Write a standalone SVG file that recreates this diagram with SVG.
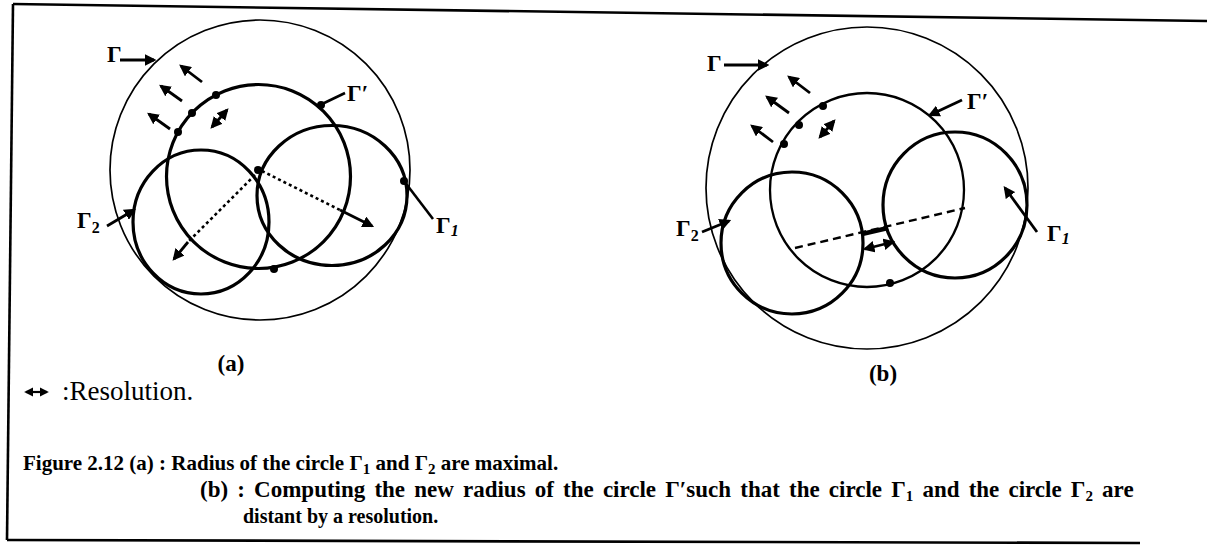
<svg xmlns="http://www.w3.org/2000/svg" width="1207" height="553" viewBox="0 0 1207 553">
<defs>
<style>
.thin{fill:none;stroke:#000;stroke-width:1.7}
.med{fill:none;stroke:#000;stroke-width:2.3}
.thick{fill:none;stroke:#000;stroke-width:3.2}
.frame{fill:none;stroke:#000;stroke-width:2.6}
.arr{fill:none;stroke:#000;stroke-width:2.8;marker-end:url(#ah)}
.darr{fill:none;stroke:#000;stroke-width:2.8;marker-start:url(#ah);marker-end:url(#ah)}
.ln{fill:none;stroke:#000;stroke-width:2.6}
.dotted{fill:none;stroke:#000;stroke-width:2.6;stroke-dasharray:3 3}
.dashed{fill:none;stroke:#000;stroke-width:2.4;stroke-dasharray:8 5}
.dot{fill:#000}
.lbl{font-family:"Liberation Serif","Times New Roman",serif;font-size:23px;font-weight:bold;fill:#000}
.sub{font-size:16px}
.cap{font-family:"Liberation Serif","Times New Roman",serif;font-size:20.5px;font-weight:bold;fill:#000}
.capsub{font-size:15px}
.reg{font-family:"Liberation Serif","Times New Roman",serif;font-size:27px;fill:#000}
</style>
<marker id="ah" viewBox="0 0 10 10" refX="8" refY="5" markerWidth="4.2" markerHeight="4.2" orient="auto-start-reverse">
<path d="M0,0 L10,5 L0,10 z" fill="#000"/>
</marker>
</defs>
<rect width="1207" height="553" fill="#fff"/>
<g id="frame">
<path class="frame" d="M13,4 L1207,21"/>
<path class="frame" d="M13,4 L7,540"/>
<path class="frame" d="M7,540 L1140,543"/>
</g>
<!-- Panel (a) -->
<g id="a-gamma"><circle class="thin" cx="260" cy="170" r="150"/></g>
<g id="a-gammaprime"><circle class="thick" cx="258.5" cy="176.5" r="92"/></g>
<g id="a-gamma2"><ellipse class="thick" cx="201" cy="222" rx="68" ry="72"/></g>
<g id="a-gamma1"><ellipse class="thick" cx="332" cy="195.5" rx="75" ry="70"/></g>
<g id="a-points">
<circle class="dot" cx="216" cy="95" r="4"/>
<circle class="dot" cx="192" cy="113" r="4"/>
<circle class="dot" cx="178" cy="132" r="4"/>
<circle class="dot" cx="274" cy="269" r="4"/>
<circle class="dot" cx="258" cy="170" r="4"/>
</g>
<g id="a-labels">
<text class="lbl" x="107" y="62">Γ</text>
<text class="lbl" x="347" y="101">Γ′</text>
<text class="lbl" x="77" y="228">Γ<tspan class="sub" dy="5">2</tspan></text>
<text class="lbl" x="436" y="233">Γ<tspan class="sub" dy="3" font-style="italic">1</tspan></text>
</g>
<g id="a-connectors">
<path class="arr" d="M120,60 L154,60"/>
<path class="ln" d="M345,93 L320,105"/>
<circle class="dot" cx="321" cy="105" r="4"/>
<path class="arr" d="M107,226 L134,210"/>
<path class="ln" d="M433,219 L404,181"/>
<circle class="dot" cx="404" cy="181" r="4"/>
<path class="arr" d="M202,82 L181,66"/>
<path class="arr" d="M182,101 L161,86"/>
<path class="arr" d="M170,129 L149,114"/>
<path class="darr" d="M212,127 L227,110"/>
<path class="dotted" d="M255,175 L188,242"/>
<path class="arr" d="M188,242 L174,259"/>
<path class="dotted" d="M262,171 L340,210"/>
<path class="arr" d="M340,210 L372,226"/>
</g>
<!-- Panel (b) -->
<g id="b-gamma"><circle class="thin" cx="867" cy="188" r="161"/></g>
<g id="b-gammaprime"><circle class="med" cx="867" cy="190" r="97"/></g>
<g id="b-gamma2"><circle class="thick" cx="792" cy="243" r="71"/></g>
<g id="b-gamma1"><ellipse class="thick" cx="955" cy="205" rx="72" ry="73"/></g>
<g id="b-points">
<circle class="dot" cx="823" cy="106" r="4"/>
<circle class="dot" cx="799" cy="125" r="4"/>
<circle class="dot" cx="784" cy="144" r="4"/>
<circle class="dot" cx="890" cy="283" r="4"/>
</g>
<g id="b-labels">
<text class="lbl" x="707" y="71">Γ</text>
<text class="lbl" x="967" y="109">Γ′</text>
<text class="lbl" x="676" y="236">Γ<tspan class="sub" dy="5">2</tspan></text>
<text class="lbl" x="1047" y="241">Γ<tspan class="sub" dy="3" font-style="italic">1</tspan></text>
</g>
<g id="b-connectors">
<path class="arr" d="M724,65 L767,65"/>
<path class="arr" d="M962,100 L930,115"/>
<path class="arr" d="M702,232 L729,221"/>
<path class="arr" d="M1037,232 L1005,188"/>
<path class="arr" d="M810,93 L789,77"/>
<path class="arr" d="M789,113 L767,97"/>
<path class="arr" d="M773,142 L752,126"/>
<path class="darr" d="M820,137 L834,121"/>
<path class="dashed" d="M795,248 L965,208"/>
<path fill="none" stroke="#000" stroke-width="4.5" d="M862,234 L888,228"/>
<path class="darr" d="M865,249 L893,242"/>
</g>
<g id="captions">
<text class="cap" x="231" y="371" text-anchor="middle" style="font-size:23px">(a)</text>
<text class="cap" x="883" y="381" text-anchor="middle" style="font-size:23px">(b)</text>
<path fill="none" stroke="#000" stroke-width="2.2" marker-start="url(#ah)" marker-end="url(#ah)" d="M26,392 L47,392"/>
<text class="reg" x="62" y="400">:Resolution.</text>
<text class="cap" x="23" y="470" style="font-size:21px">Figure 2.12 (a) : Radius of the circle Γ<tspan class="capsub" dy="4">1</tspan><tspan dy="-4"> and Γ</tspan><tspan class="capsub" dy="4">2</tspan><tspan dy="-4"> are maximal.</tspan></text>
<text class="cap" x="200" y="497" style="font-size:23px" word-spacing="3.4">(b) : Computing the new radius of the circle Γ′such that the circle Γ<tspan class="capsub" dy="4">1</tspan><tspan dy="-4"> and the circle Γ</tspan><tspan class="capsub" dy="4">2</tspan><tspan dy="-4"> are</tspan></text>
<text class="cap" x="243" y="523" style="font-size:20px">distant by a resolution.</text>
</g>
</svg>
